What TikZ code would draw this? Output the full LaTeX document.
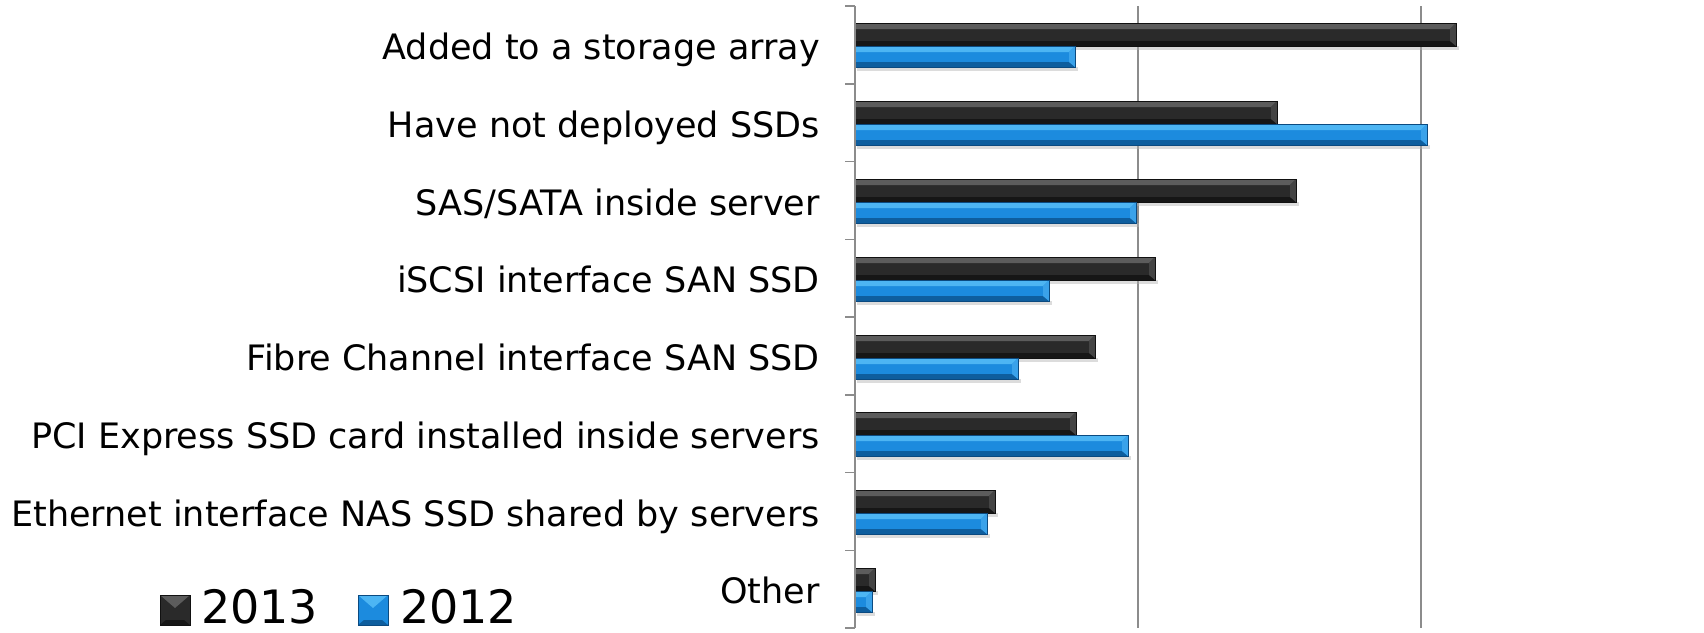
\documentclass[tikz,border=0pt]{standalone}
\usepackage{fontspec}
\setmainfont{DejaVu Sans}
\definecolor{bkmain}{HTML}{2A2A2A}
\definecolor{bklight}{HTML}{5C5C5C}
\definecolor{bkdark}{HTML}{161616}
\definecolor{bkend}{HTML}{444444}
\definecolor{bkedge}{HTML}{111111}
\definecolor{blmain}{HTML}{1C8BDE}
\definecolor{bllight}{HTML}{4DB5F3}
\definecolor{bldark}{HTML}{0E5E9E}
\definecolor{blend}{HTML}{3AA2EA}
\definecolor{bledge}{HTML}{0B4A80}
\definecolor{axisgray}{HTML}{8C8C8C}
\newcommand\barbev[4]{%
  \fill[black!30,opacity=0.45] (857,#4) rectangle (#2+3,#4+4);
  \fill[#1main] (855,#3) rectangle (#2,#4);
  \fill[#1light] (855,#3) -- (#2,#3) -- (#2-6,#3+6) -- (855,#3+6) -- cycle;
  \fill[#1dark] (855,#4) -- (#2,#4) -- (#2-6,#4-5) -- (855,#4-5) -- cycle;
  \fill[#1end] (#2,#3) -- (#2,#4) -- (#2-6,#4-5) -- (#2-6,#3+6) -- cycle;
  \draw[#1edge,line width=0.8pt] (855,#3) rectangle (#2,#4);
}
\newcommand\legsq[3]{% prefix, left x, top y
  \fill[#1main] (#2,#3) rectangle (#2+30,#3+30);
  \fill[#1light] (#2,#3) -- (#2+30,#3) -- (#2+15,#3+13) -- cycle;
  \fill[#1dark] (#2,#3+30) -- (#2+30,#3+30) -- (#2+24,#3+25) -- (#2+6,#3+25) -- cycle;
  \draw[#1edge,line width=0.8pt] (#2,#3) rectangle (#2+30,#3+30);
}
\tikzset{
  catlabel/.style={anchor=base east,inner sep=0pt,font=\fontsize{35}{42}\selectfont},
  legtext/.style={anchor=base west,inner sep=0pt,font=\fontsize{46}{54}\selectfont},
  axisline/.style={draw=axisgray,line width=1.5pt},
  gridline/.style={draw=axisgray,line width=1.3pt},
  legkey/.style={minimum width=30pt,minimum height=30pt,inner sep=0pt,anchor=north west}
}
\begin{document}
\begin{tikzpicture}[x=1pt,y=-1pt]
\useasboundingbox[fill=white] (0,0) rectangle (1704,632);
% gridlines
\draw[gridline] (1138,6) -- (1138,628);
\draw[gridline] (1421,6) -- (1421,628);
% bars
\barbev{bk}{1456}{23}{46}
\barbev{bl}{1075}{46}{67}
\barbev{bk}{1277}{101}{124}
\barbev{bl}{1427}{124}{145}
\barbev{bk}{1296}{179}{202}
\barbev{bl}{1136}{202}{223}
\barbev{bk}{1155}{257}{280}
\barbev{bl}{1049}{280}{301}
\barbev{bk}{1095}{335}{358}
\barbev{bl}{1018}{358}{379}
\barbev{bk}{1076}{412}{435}
\barbev{bl}{1128}{435}{456}
\barbev{bk}{995}{490}{513}
\barbev{bl}{987}{513}{534}
\barbev{bk}{875}{568}{591}
\barbev{bl}{872}{591}{612}
% axis and ticks
\draw[axisline] (855,6) -- (855,628);
\foreach \k in {0,...,8} {
  \draw[axisline] (845,{6+77.75*\k}) -- (855,{6+77.75*\k});
}
% category labels
\node[catlabel] (l1) at (820,59) {Added to a storage array};
\node[catlabel] (l2) at (820,137) {Have not deployed SSDs};
\node[catlabel] (l3) at (820,215) {SAS/SATA inside server};
\node[catlabel] (l4) at (820,292) {iSCSI interface SAN SSD};
\node[catlabel] (l5) at (820,370) {Fibre Channel interface SAN SSD};
\node[catlabel] (l6) at (820,448) {PCI Express SSD card installed inside servers};
\node[catlabel] (l7) at (820,526) {Ethernet interface NAS SSD shared by servers};
\node[catlabel] (l8) at (820,603) {Other};
% legend
\node[legkey] (k1) at (160,595) {};
\legsq{bk}{160}{595}
\node[legtext] (t1) at (201,623) {2013};
\node[legkey] (k2) at (358,595) {};
\legsq{bl}{358}{595}
\node[legtext] (t2) at (400,623) {2012};
\end{tikzpicture}
\end{document}
